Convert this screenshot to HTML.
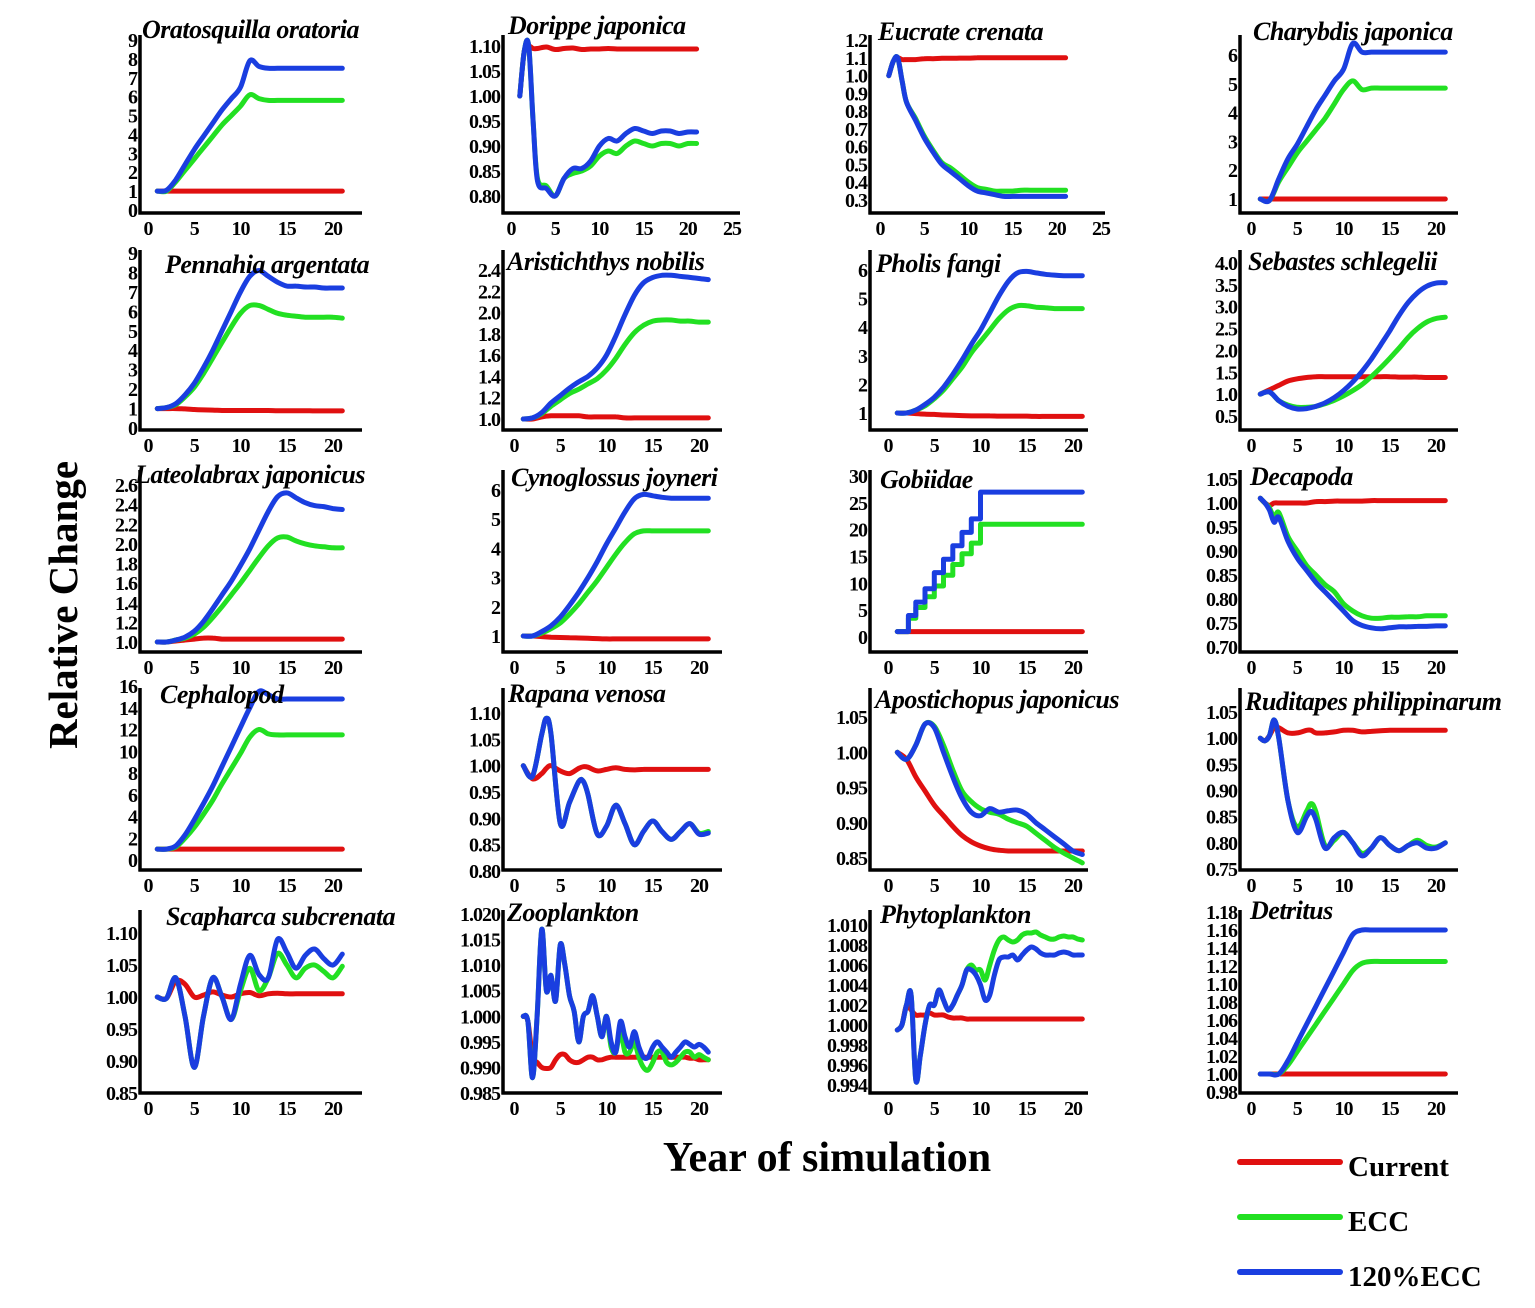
<!DOCTYPE html>
<html><head><meta charset="utf-8"><style>
html,body{margin:0;padding:0;background:#fff;}
svg{display:block;font-family:"Liberation Serif",serif;}
</style></head><body>
<svg id="fig" width="1535" height="1308" viewBox="0 0 1535 1308" xmlns="http://www.w3.org/2000/svg">
<text x="0" y="0" transform="translate(77,605) rotate(-90)" text-anchor="middle" font-weight="bold" font-size="41">Relative Change</text>
<text x="827" y="1171" text-anchor="middle" font-weight="bold" font-size="42">Year of simulation</text>
<g>
<line x1="1240" y1="1162" x2="1340" y2="1162" stroke="#e01010" stroke-width="6" stroke-linecap="round"/>
<text x="1348" y="1176" font-weight="bold" font-size="29">Current</text>
<line x1="1240" y1="1217" x2="1340" y2="1217" stroke="#22e022" stroke-width="6" stroke-linecap="round"/>
<text x="1348" y="1231" font-weight="bold" font-size="29">ECC</text>
<line x1="1240" y1="1272" x2="1340" y2="1272" stroke="#1a3ee0" stroke-width="6" stroke-linecap="round"/>
<text x="1348" y="1286" font-weight="bold" font-size="29">120%ECC</text>
</g>
</svg>
<script>
// ---------- data ----------
const yearsStep1 = [1,2,3,4,5,6,7,8,9,10,11,12,13,14,15,16,17,18,19,20,21];
const yearsHalf = [1,1.5,2,2.5,3,3.5,4,4.5,5,5.5,6,6.5,7,7.5,8,8.5,9,9.5,10,10.5,11,11.5,12,12.5,13,13.5,14,14.5,15,15.5,16,16.5,17,17.5,18,18.5,19,19.5,20,20.5,21];
const yearsEarly = [1,1.5,2,2.5,3,4,5,6,7,8,9,10,11,12,13,14,15,16,17,18,19,20,21];

const titles = ["Oratosquilla oratoria","Dorippe japonica","Eucrate crenata","Charybdis japonica","Pennahia argentata","Aristichthys nobilis","Pholis fangi","Sebastes schlegelii","Lateolabrax japonicus","Cynoglossus joyneri","Gobiidae","Decapoda","Cephalopod","Rapana venosa","Apostichopus japonicus","Ruditapes philippinarum","Scapharca subcrenata","Zooplankton","Phytoplankton","Detritus"];

const yTickLabels = [
["0","1","2","3","4","5","6","7","8","9"],
["0.80","0.85","0.90","0.95","1.00","1.05","1.10"],
["0.3","0.4","0.5","0.6","0.7","0.8","0.9","1.0","1.1","1.2"],
["1","2","3","4","5","6"],
["0","1","2","3","4","5","6","7","8","9"],
["1.0","1.2","1.4","1.6","1.8","2.0","2.2","2.4"],
["1","2","3","4","5","6"],
["0.5","1.0","1.5","2.0","2.5","3.0","3.5","4.0"],
["1.0","1.2","1.4","1.6","1.8","2.0","2.2","2.4","2.6"],
["1","2","3","4","5","6"],
["0","5","10","15","20","25","30"],
["0.70","0.75","0.80","0.85","0.90","0.95","1.00","1.05"],
["0","2","4","6","8","10","12","14","16"],
["0.80","0.85","0.90","0.95","1.00","1.05","1.10"],
["0.85","0.90","0.95","1.00","1.05"],
["0.75","0.80","0.85","0.90","0.95","1.00","1.05"],
["0.85","0.90","0.95","1.00","1.05","1.10"],
["0.985","0.990","0.995","1.000","1.005","1.010","1.015","1.020"],
["0.994","0.996","0.998","1.000","1.002","1.004","1.006","1.008","1.010"],
["0.98","1.00","1.02","1.04","1.06","1.08","1.10","1.12","1.14","1.16","1.18"]
];
const xTickLabelsShort = ["0","5","10","15","20"];
const xTickLabelsLong = ["0","5","10","15","20","25"];

const xs = [yearsStep1,yearsEarly,yearsEarly,yearsStep1,yearsStep1,yearsStep1,yearsStep1,yearsStep1,yearsStep1,yearsStep1,
 [1,2.2,2.2,3,3,4,4,5,5,6,6,7,7,8,8,9,9,10,10,21],
 yearsEarly,yearsStep1,
 [1,2,3,3.5,4,5,6,7,7.5,8,9,10,11,12,13,14,15,16,17,18,19,20,21],
 yearsStep1,
 [1,1.5,2,2.5,3,4,5,6,6.5,7,8,9,10,11,12,13,14,15,16,17,18,19,20,21],
 yearsStep1,yearsHalf,yearsHalf,yearsStep1];

const currentSeries = [
[1,1,1,1,1,1,1,1,1,1,1,1,1,1,1,1,1,1,1,1,1],
[1.0,1.09,1.10,1.095,1.095,1.098,1.093,1.095,1.096,1.093,1.094,1.094,1.095,1.094,1.094,1.094,1.094,1.094,1.094,1.094,1.094,1.094,1.094],
[1.0,1.08,1.10,1.09,1.09,1.09,1.095,1.095,1.097,1.097,1.098,1.098,1.1,1.1,1.1,1.1,1.1,1.1,1.1,1.1,1.1,1.1,1.1],
[1,1,1,1,1,1,1,1,1,1,1,1,1,1,1,1,1,1,1,1,1],
[1,1,1,0.98,0.95,0.93,0.92,0.9,0.9,0.9,0.9,0.9,0.9,0.89,0.89,0.89,0.89,0.88,0.88,0.88,0.88],
[1,1.0,1.02,1.03,1.03,1.03,1.03,1.02,1.02,1.02,1.02,1.01,1.01,1.01,1.01,1.01,1.01,1.01,1.01,1.01,1.01],
[1,1,0.98,0.96,0.95,0.93,0.92,0.91,0.9,0.9,0.9,0.89,0.89,0.89,0.89,0.88,0.88,0.88,0.88,0.88,0.88],
[1,1.1,1.2,1.3,1.35,1.38,1.4,1.4,1.4,1.4,1.4,1.4,1.4,1.4,1.4,1.39,1.39,1.39,1.38,1.38,1.38],
[1,1,1.01,1.02,1.03,1.04,1.04,1.03,1.03,1.03,1.03,1.03,1.03,1.03,1.03,1.03,1.03,1.03,1.03,1.03,1.03],
[1,1,0.98,0.96,0.95,0.94,0.93,0.92,0.91,0.9,0.9,0.9,0.9,0.9,0.9,0.9,0.9,0.9,0.9,0.9,0.9],
[1,1,1,1,1,1,1,1,1,1,1,1,1,1,1,1,1,1,1,1],
[1.01,1.0,0.995,1.0,1.0,1.0,1.0,1.0,1.003,1.003,1.004,1.004,1.004,1.004,1.005,1.005,1.005,1.005,1.005,1.005,1.005,1.005,1.005],
[1,1,1,1,1,1,1,1,1,1,1,1,1,1,1,1,1,1,1,1,1],
[1.0,0.975,0.985,0.995,1.0,0.99,0.985,0.995,0.998,0.997,0.99,0.993,0.996,0.993,0.992,0.993,0.993,0.993,0.993,0.993,0.993,0.993,0.993],
[1.0,0.99,0.965,0.945,0.925,0.91,0.895,0.882,0.873,0.867,0.863,0.861,0.86,0.86,0.86,0.86,0.86,0.86,0.86,0.86,0.86],
[1.0,0.995,1.005,1.02,1.02,1.01,1.01,1.015,1.015,1.01,1.01,1.012,1.015,1.015,1.012,1.013,1.014,1.015,1.015,1.015,1.015,1.015,1.015,1.015],
[1.0,0.998,1.025,1.02,1.0,1.003,1.008,1.003,1.0,1.005,1.007,1.002,1.005,1.006,1.005,1.005,1.005,1.005,1.005,1.005,1.005],
[1.0,0.999,0.992,0.991,0.990,0.9898,0.990,0.9915,0.9925,0.9925,0.9915,0.991,0.991,0.9915,0.992,0.992,0.9915,0.9915,0.9918,0.992,0.992,0.992,0.992,0.992,0.992,0.992,0.992,0.992,0.992,0.992,0.992,0.992,0.992,0.992,0.992,0.992,0.9918,0.9918,0.9915,0.9915,0.9915],
[0.9995,1.0,1.002,1.0015,1.001,1.001,1.001,1.0012,1.001,1.001,1.001,1.0008,1.0007,1.0007,1.0007,1.0006,1.0006,1.0006,1.0006,1.0006,1.0006,1.0006,1.0006,1.0006,1.0006,1.0006,1.0006,1.0006,1.0006,1.0006,1.0006,1.0006,1.0006,1.0006,1.0006,1.0006,1.0006,1.0006,1.0006,1.0006,1.0006],
[1,1,1,1,1,1,1,1,1,1,1,1,1,1,1,1,1,1,1,1,1]
];
const eccSeries = [
[1,1,1.5,2.1,2.7,3.3,3.9,4.5,5.0,5.5,6.1,5.9,5.8,5.8,5.8,5.8,5.8,5.8,5.8,5.8,5.8],
[1.0,1.09,1.10,0.95,0.835,0.82,0.80,0.835,0.845,0.85,0.86,0.88,0.89,0.885,0.90,0.91,0.905,0.90,0.905,0.905,0.90,0.905,0.905],
[1.0,1.08,1.10,0.97,0.85,0.76,0.66,0.58,0.51,0.48,0.44,0.40,0.37,0.36,0.35,0.35,0.35,0.355,0.355,0.355,0.355,0.355,0.355],
[1,0.95,1.6,2.1,2.6,3.0,3.4,3.8,4.3,4.8,5.1,4.8,4.85,4.85,4.85,4.85,4.85,4.85,4.85,4.85,4.85],
[1,1.05,1.2,1.6,2.1,2.8,3.6,4.4,5.2,5.9,6.3,6.3,6.1,5.9,5.8,5.75,5.7,5.7,5.7,5.7,5.65],
[1,1.01,1.05,1.12,1.18,1.24,1.28,1.33,1.38,1.46,1.57,1.70,1.81,1.88,1.92,1.93,1.93,1.92,1.92,1.91,1.91],
[1,1.0,1.1,1.25,1.5,1.8,2.2,2.6,3.1,3.5,3.9,4.3,4.6,4.75,4.75,4.7,4.68,4.65,4.65,4.65,4.65],
[1,1.05,0.85,0.75,0.7,0.7,0.72,0.78,0.86,0.96,1.08,1.22,1.40,1.60,1.82,2.05,2.3,2.5,2.65,2.73,2.76],
[1,1.0,1.02,1.04,1.08,1.15,1.25,1.36,1.48,1.6,1.73,1.86,1.98,2.06,2.07,2.03,2.0,1.98,1.97,1.96,1.96],
[1,1.0,1.1,1.25,1.45,1.75,2.1,2.5,2.9,3.35,3.8,4.2,4.5,4.6,4.6,4.6,4.6,4.6,4.6,4.6,4.6],
[1,1,3.5,3.5,5.5,5.5,7.5,7.5,9.5,9.5,11.5,11.5,13.5,13.5,15.5,15.5,17.5,17.5,21,21],
[1.01,1.0,0.99,0.97,0.98,0.93,0.9,0.87,0.85,0.83,0.815,0.79,0.775,0.765,0.76,0.76,0.762,0.762,0.763,0.763,0.765,0.765,0.765],
[1,1,1.2,2,3,4.2,5.5,7,8.4,9.8,11.3,12,11.6,11.5,11.5,11.5,11.5,11.5,11.5,11.5,11.5],
[1.0,0.98,1.06,1.09,1.06,0.89,0.93,0.97,0.97,0.945,0.87,0.885,0.925,0.89,0.85,0.875,0.895,0.875,0.86,0.875,0.89,0.872,0.875],
[1.0,0.99,1.01,1.04,1.037,1.01,0.975,0.945,0.93,0.92,0.915,0.912,0.905,0.9,0.895,0.885,0.875,0.865,0.857,0.85,0.843],
[1.0,0.995,1.005,1.035,1.0,0.88,0.83,0.86,0.875,0.86,0.795,0.805,0.82,0.8,0.78,0.79,0.81,0.795,0.785,0.795,0.805,0.795,0.792,0.8],
[1.0,0.998,1.03,0.97,0.89,0.97,1.03,1.0,0.965,1.01,1.045,1.01,1.03,1.068,1.05,1.03,1.045,1.05,1.04,1.03,1.048],
[1.0,0.999,0.988,1.0,1.017,1.005,1.008,1.003,1.014,1.01,1.004,1.001,0.995,1.0,1.001,1.004,1.0,0.996,1.0,0.994,0.993,0.997,0.993,0.993,0.995,0.992,0.990,0.9895,0.991,0.993,0.993,0.991,0.9905,0.991,0.992,0.993,0.993,0.992,0.9925,0.992,0.9915],
[0.9995,1.0,1.002,1.003,0.9945,0.997,1.0,1.002,1.002,1.0035,1.0025,1.0015,1.002,1.003,1.004,1.0055,1.006,1.0055,1.0055,1.0045,1.006,1.0075,1.0085,1.0088,1.0085,1.0083,1.0085,1.009,1.0092,1.0092,1.0093,1.009,1.0088,1.0086,1.0086,1.0088,1.0089,1.0088,1.0088,1.0086,1.0085],
[1,1.0,1.0,1.01,1.025,1.04,1.055,1.07,1.085,1.1,1.115,1.123,1.125,1.125,1.125,1.125,1.125,1.125,1.125,1.125,1.125]
];
const ecc120Series = [
[1,1.05,1.6,2.4,3.2,3.9,4.6,5.3,5.9,6.5,7.9,7.6,7.5,7.5,7.5,7.5,7.5,7.5,7.5,7.5,7.5],
[1.0,1.09,1.10,0.95,0.83,0.815,0.80,0.835,0.855,0.855,0.87,0.90,0.915,0.91,0.925,0.935,0.93,0.925,0.93,0.93,0.925,0.928,0.928],
[1.0,1.08,1.10,0.97,0.85,0.75,0.65,0.57,0.50,0.46,0.42,0.38,0.35,0.34,0.33,0.32,0.32,0.32,0.32,0.32,0.32,0.32,0.32],
[1,0.95,1.7,2.4,2.9,3.5,4.1,4.6,5.1,5.5,6.4,6.1,6.1,6.1,6.1,6.1,6.1,6.1,6.1,6.1,6.1],
[1,1.05,1.25,1.7,2.3,3.1,4.0,5.0,6.0,7.0,7.8,8.1,7.8,7.5,7.3,7.3,7.25,7.25,7.2,7.2,7.2],
[1,1.01,1.06,1.15,1.22,1.29,1.35,1.40,1.48,1.60,1.78,1.98,2.16,2.28,2.33,2.35,2.35,2.34,2.33,2.32,2.31],
[1,1.0,1.1,1.3,1.55,1.9,2.35,2.85,3.4,3.9,4.5,5.1,5.6,5.9,5.95,5.9,5.85,5.82,5.8,5.8,5.8],
[1,1.05,0.85,0.72,0.66,0.67,0.72,0.8,0.92,1.08,1.28,1.52,1.8,2.12,2.45,2.8,3.1,3.32,3.47,3.54,3.55],
[1,1.0,1.02,1.05,1.11,1.21,1.34,1.48,1.62,1.78,1.95,2.14,2.33,2.48,2.52,2.47,2.42,2.39,2.38,2.36,2.35],
[1,1.0,1.15,1.35,1.65,2.05,2.5,3.0,3.55,4.15,4.7,5.25,5.7,5.85,5.8,5.75,5.72,5.72,5.72,5.72,5.72],
[1,1,4,4,6.5,6.5,9,9,12,12,14.5,14.5,17,17,19.5,19.5,22,22,27,27],
[1.01,1.0,0.985,0.96,0.97,0.92,0.885,0.86,0.835,0.815,0.795,0.775,0.755,0.745,0.74,0.738,0.74,0.742,0.742,0.743,0.743,0.744,0.744],
[1,1,1.3,2.3,3.7,5.2,6.8,8.6,10.4,12.2,14,15.5,15.2,14.8,14.8,14.8,14.8,14.8,14.8,14.8,14.8],
[1.0,0.98,1.06,1.09,1.06,0.89,0.93,0.97,0.97,0.945,0.87,0.885,0.925,0.89,0.85,0.875,0.895,0.875,0.86,0.875,0.89,0.87,0.872],
[1.0,0.99,1.01,1.04,1.035,1.0,0.965,0.935,0.915,0.91,0.92,0.915,0.917,0.918,0.912,0.9,0.89,0.88,0.87,0.86,0.855],
[1.0,0.995,1.005,1.035,1.0,0.88,0.82,0.85,0.86,0.845,0.79,0.81,0.82,0.8,0.775,0.79,0.81,0.795,0.785,0.795,0.8,0.79,0.79,0.8],
[1.0,0.998,1.03,0.97,0.89,0.97,1.03,1.0,0.965,1.02,1.065,1.035,1.03,1.09,1.07,1.045,1.065,1.075,1.06,1.05,1.067],
[1.0,0.999,0.988,1.0,1.017,1.005,1.008,1.003,1.014,1.01,1.004,1.001,0.995,1.0,1.001,1.004,1.0,0.996,1.0,0.995,0.993,0.999,0.996,0.994,0.997,0.994,0.992,0.992,0.994,0.995,0.994,0.993,0.992,0.993,0.994,0.995,0.9945,0.994,0.9945,0.994,0.993],
[0.9995,1.0,1.002,1.003,0.9945,0.997,1.0,1.002,1.002,1.0035,1.0025,1.0015,1.002,1.003,1.004,1.0055,1.0055,1.005,1.004,1.0025,1.003,1.005,1.0065,1.0068,1.0068,1.007,1.0065,1.007,1.0075,1.0078,1.0076,1.0072,1.007,1.007,1.007,1.0072,1.0073,1.0072,1.007,1.007,1.007],
[1,1.0,1.0,1.015,1.035,1.055,1.075,1.095,1.115,1.135,1.155,1.16,1.16,1.16,1.16,1.16,1.16,1.16,1.16,1.16,1.16]
];

// ---------- layout (pixels, not data) ----------
const rowBase=[213,430,652,870,1093], rowTop=[35,250,470,688,910];
const colAxis=[140,503,870,1240], colX0=[148,514,888,1251], colEnd=[362,722,1088,1458];
const ycal=[[0,210,9,40],[0.8,196,1.1,46],[0.3,200,1.2,40],[1,199,6,55],
[0,428,9,253],[1.0,419,2.4,270],[1,413,6,270],[0.5,416,4.0,263],
[1.0,642,2.6,485],[1,636,6,490],[0,637,30,476],[0.70,647,1.05,479],
[0,860,16,686],[0.80,871,1.10,713],[0.85,858,1.05,717],[0.75,869,1.05,712],
[0.85,1093,1.10,933],[0.985,1093,1.020,914],[0.994,1085,1.010,925],[0.98,1092,1.18,912]];
const titlePos=[[142,38],[508,34],[878,40],[1253,40],[165,273],[507,270],[876,272],[1248,270],
[135,483],[511,486],[880,488],[1250,485],[160,703],[508,702],[875,708],[1245,710],[166,925],[507,921],[880,923],[1250,919]];
const colors=["#e01010","#22e022","#1a3ee0"];
const seriesNames=["current","ecc","120ecc"];

const NS="http://www.w3.org/2000/svg";
const svg=document.getElementById('fig');
function mk(tag,attrs,parent){const e=document.createElementNS(NS,tag);for(const k in attrs)e.setAttribute(k,attrs[k]);parent.appendChild(e);return e;}
function smoothPath(pts){
  let d="M"+pts[0][0].toFixed(1)+","+pts[0][1].toFixed(1);
  for(let i=0;i<pts.length-1;i++){
    const p0=pts[i-1]||pts[i],p1=pts[i],p2=pts[i+1],p3=pts[i+2]||p2;
    const c1=[p1[0]+(p2[0]-p0[0])/6,p1[1]+(p2[1]-p0[1])/6];
    const c2=[p2[0]-(p3[0]-p1[0])/6,p2[1]-(p3[1]-p1[1])/6];
    d+=" C"+c1[0].toFixed(1)+","+c1[1].toFixed(1)+" "+c2[0].toFixed(1)+","+c2[1].toFixed(1)+" "+p2[0].toFixed(1)+","+p2[1].toFixed(1);
  }
  return d;
}
function linePath(pts){return "M"+pts.map(p=>p[0].toFixed(1)+","+p[1].toFixed(1)).join(" L");}

for(let i=0;i<20;i++){
  const r=Math.floor(i/4),c=i%4;
  const longX=(r===0&&(c===1||c===2));
  const x0=longX?(c===1?511:880):colX0[c];
  const sx=longX?8.84:9.25;
  const xEnd=longX?(c===1?740:1105):colEnd[c];
  const cal=ycal[i];
  const yScale=v=>cal[1]+(v-cal[0])*(cal[3]-cal[1])/(cal[2]-cal[0]);
  const xScale=v=>x0+v*sx;
  const g=mk('g',{},svg);
  
  
  const X=xs[i];
  [currentSeries[i],eccSeries[i],ecc120Series[i]].forEach((vals,si)=>{
    const pts=vals.map((v,k)=>[xScale(X[k]),yScale(v)]);
    const p=mk('path',{d:(i===10?linePath(pts):smoothPath(pts)),fill:'none',stroke:colors[si],'stroke-width':5,'stroke-linejoin':'round','stroke-linecap':'round'},g);
    
    
  });
  const ya=mk('line',{x1:colAxis[c],y1:rowTop[r],x2:colAxis[c],y2:rowBase[r]+1.5,stroke:'#000','stroke-width':3.5},g);
  
  
  const xa=mk('line',{x1:colAxis[c]-1.5,y1:rowBase[r],x2:xEnd,y2:rowBase[r],stroke:'#000','stroke-width':3.5},g);
  
  
  yTickLabels[i].forEach(lbl=>{
    const y=yScale(parseFloat(lbl));
    const t=mk('text',{x:colAxis[c]-3,y:y+7,'text-anchor':'end','font-weight':'bold','font-size':20,'letter-spacing':'-1'},g);
    t.textContent=lbl;
    
    
  });
  (longX?xTickLabelsLong:xTickLabelsShort).forEach(lbl=>{
    const t=mk('text',{x:xScale(parseFloat(lbl)),y:rowBase[r]+22,'text-anchor':'middle','font-weight':'bold','font-size':20,'letter-spacing':'-1'},g);
    t.textContent=lbl;
    
    
  });
  const tt=mk('text',{x:titlePos[i][0],y:titlePos[i][1],'font-weight':'bold','font-style':'italic','font-size':26,'letter-spacing':'-0.5'},g);
  tt.textContent=titles[i];
  
  
}
</script>
</body></html>
